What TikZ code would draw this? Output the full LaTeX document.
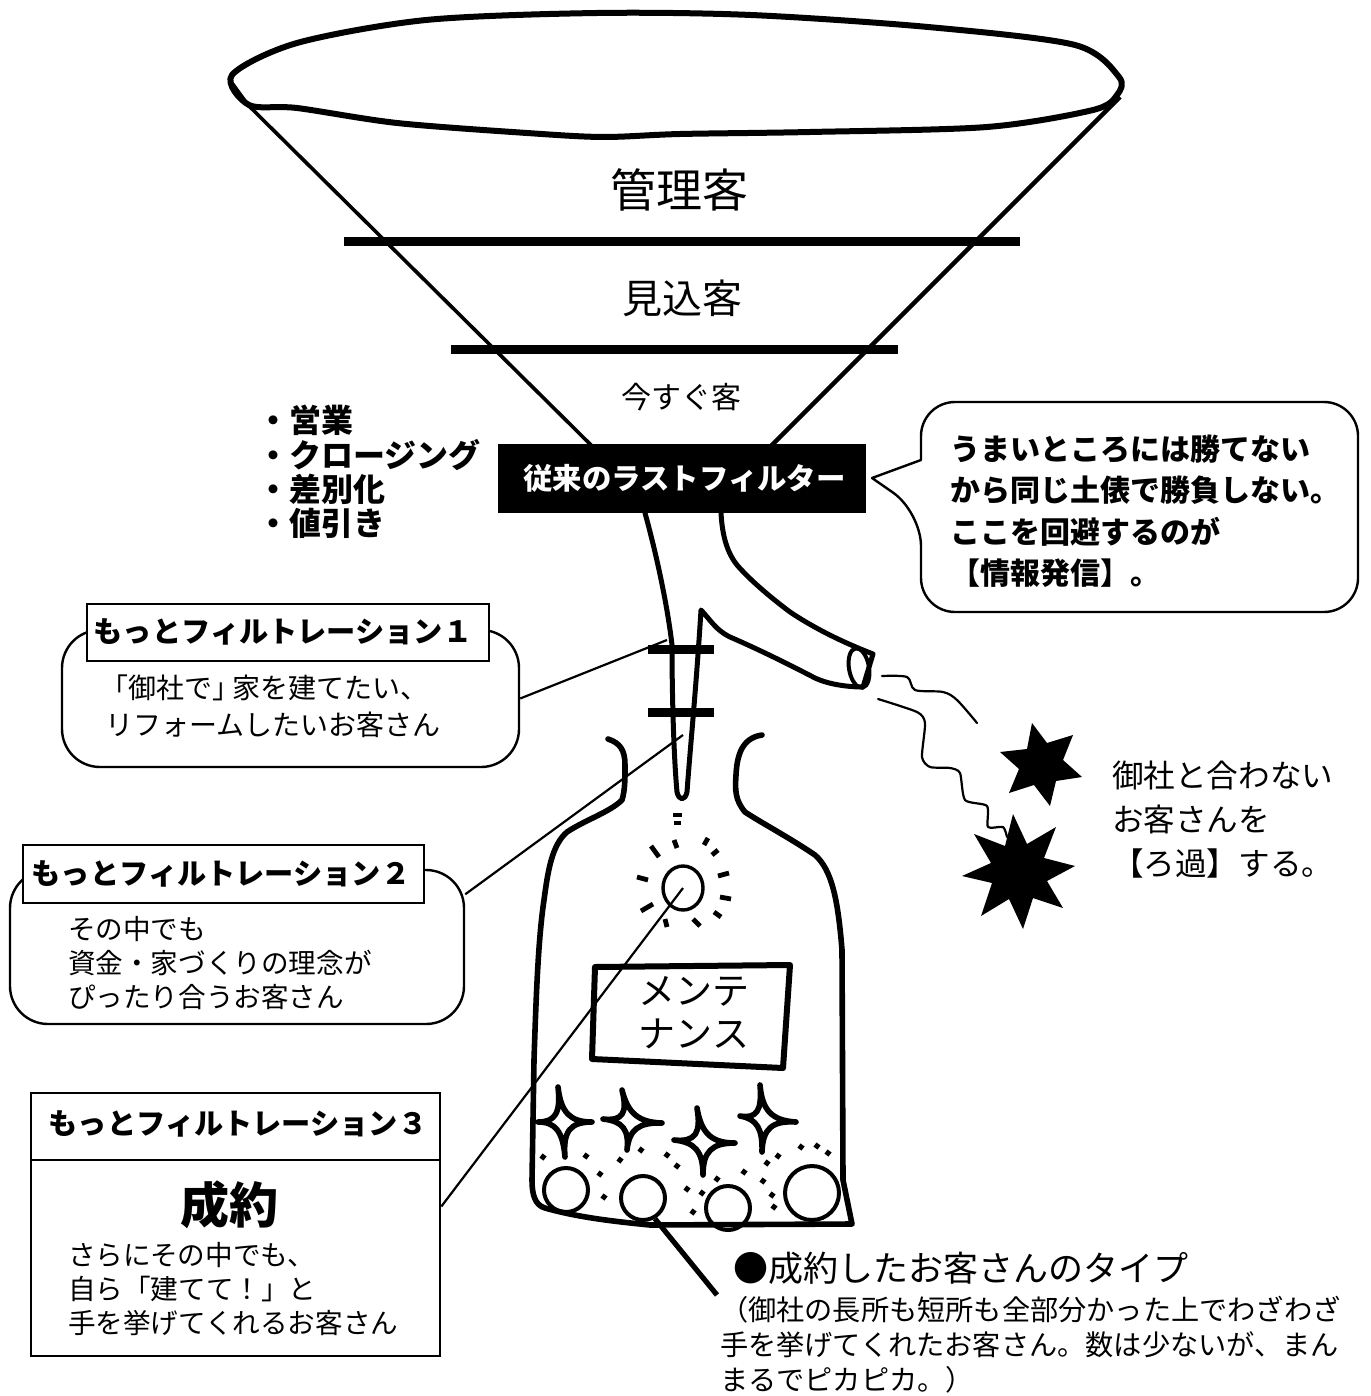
\documentclass[tikz,border=0pt]{standalone}
\usepackage{fontspec}
\usetikzlibrary{shapes.geometric,calc}
\setmainfont{Noto Sans CJK JP}
\newcommand{\fs}[2]{\fontsize{#1}{#2}\selectfont}
\tikzset{
  label text/.style={inner sep=0pt,outer sep=0pt,align=left,anchor=west},
  heading text/.style={inner sep=0pt,outer sep=0pt,font=\bfseries\fs{14.6}{18}},
  round panel/.style={draw=black,line width=1.2pt,rounded corners=19pt,fill=white,inner sep=0pt},
  title tag/.style={draw=black,line width=1.2pt,fill=white,inner sep=0pt},
  ink/.style={line width=2.5pt,line cap=round,line join=round},
  thinink/.style={line width=1.1pt,line cap=round,line join=round},
  leader/.style={line width=1.1pt},
  band/.style={line width=4.5pt},
}
% Concave four-point sparkle: left, top, right, bottom tips and centre
\newcommand{\sparkle}[5]{%
  \draw[line width=2.8pt,line join=round] (#1) .. controls ($(#5)!0.27!(#1)$) and ($(#5)!0.27!(#2)$) .. (#2)
    .. controls ($(#5)!0.27!(#2)$) and ($(#5)!0.27!(#3)$) .. (#3)
    .. controls ($(#5)!0.27!(#3)$) and ($(#5)!0.27!(#4)$) .. (#4)
    .. controls ($(#5)!0.27!(#4)$) and ($(#5)!0.27!(#1)$) .. cycle;}
\begin{document}
\begin{tikzpicture}[x=0.5pt,y=-0.5pt]
\useasboundingbox[fill=white] (0,0) rectangle (1370,1396);

% Funnel rim and sides
\draw[line width=3pt,line join=round] plot[smooth cycle,tension=0.5] coordinates
  {(232,75) (297,43) (426,20) (597,13) (751,15) (928,27) (1075,45) (1119,77) (1117,95)
   (1093,110) (987,127) (810,132) (680,134) (603,137) (527,133) (397,123) (297,108) (249,105)};
\draw[line width=1.8pt,line join=round] (232,83) -- (248,105) -- (592,446);
\draw[line width=2.2pt] (1120,97) -- (771,446);
\draw[band] (344,242) -- (1020,242);
\draw[band] (451,349) -- (898,349);

\node[inner sep=0pt,font=\fs{23}{28}] (tierA) at (679,190) {管理客};
\node[inner sep=0pt,font=\fs{20}{24}] (tierB) at (682,298) {見込客};
\node[inner sep=0pt,font=\fs{15}{18}] (tierC) at (681,397) {今すぐ客};

\node[label text,font=\bfseries\fs{16}{17.2}] (sales) at (257,472)
  {・営業\\・クロージング\\・差別化\\・値引き};

% Neck with side outlet
\draw[ink] (645,513) .. controls (658,560) and (668,610) .. (672,645)
  .. controls (672,700) and (674,760) .. (677,792)
  .. controls (679,801) and (685,801) .. (687,792)
  .. controls (690,750) and (696,690) .. (701,610)
  .. controls (712,622) and (716,630) .. (730,637)
  .. controls (760,650) and (790,665) .. (815,678)
  .. controls (830,685) and (850,687) .. (863,687)
  -- (873,654)
  .. controls (850,645) and (820,632) .. (790,612)
  .. controls (770,597) and (750,580) .. (737,565)
  .. controls (725,550) and (722,530) .. (721,513);
\draw[line width=2pt,rotate around={10:(859,668)}] (859,668) ellipse (10 and 20);
\draw[band] (648,649) -- (714,649);
\draw[band] (648,712) -- (714,712);

% Hopper label and its speech bubble
\node[fill=black,text=white,inner sep=0pt,minimum width=184pt,minimum height=34.5pt,
  font=\bfseries\fs{14.7}{18}] (lastfilter) at (682,478.5) {\hspace*{2.5pt}従来のラストフィルター};
\draw[line width=1.2pt,fill=white,line join=round,rounded corners=17pt]
  (921,460) -- (921,402) -- (1358,402) -- (1358,612) -- (921,612) -- (921,512)
  [sharp corners] -- (872,478) -- cycle;
\node[label text,font=\bfseries\fs{15}{20.7}] (bubble) at (950,511)
  {うまいところには勝てない\\から同じ土俵で勝負しない。\\ここを回避するのが\\【情報発信】。};

% Flask
\draw[ink,line width=2.8pt] (608,739) .. controls (620,743) and (625,750) .. (625,765)
  .. controls (625,780) and (625,790) .. (622,800)
  .. controls (610,812) and (585,820) .. (567,832)
  .. controls (552,845) and (548,870) .. (544,900)
  .. controls (538,940) and (536,1000) .. (534,1060)
  -- (532,1180) .. controls (532,1195) and (535,1205) .. (545,1208)
  .. controls (580,1218) and (620,1222) .. (650,1225)
  -- (852,1224) -- (843,1180) -- (842,950)
  .. controls (838,900) and (832,870) .. (815,855)
  .. controls (790,838) and (760,822) .. (745,812)
  .. controls (735,800) and (735,790) .. (736,775)
  .. controls (737,755) and (742,738) .. (762,735);

% Spout drops and glowing jewel
\node[draw=black,line width=1.7pt,ellipse,inner sep=0pt,minimum width=20pt,minimum height=22pt] (jewel) at (683,888) {};
\foreach \a/\b/\c/\d in {673/815/682/815, 674/823/681/823, 651/846/659/857, 674/840/677/848,
  708/838/704/845, 718/850/712/855, 718/876/729/873, 720/897/731/899, 714/912/721/917,
  693/919/700/926, 665/919/667/927, 641/911/653/904, 637/877/648/880}
  \draw[line width=2.4pt] (\a,\b) -- (\c,\d);

% Maintenance plate
\draw[line width=3pt,line join=round] (595,967) -- (790,965) -- (783,1068) -- (592,1059) -- cycle;
\node[inner sep=0pt,align=center,font=\fs{18.5}{21.5}] (plate) at (694,1013) {メンテ\\ナンス};

% Sparkles, pearls and specks at the bottom of the flask
\sparkle{538,1122}{558,1087}{592,1122}{565,1157}{562,1122}
\sparkle{603,1119}{622,1090}{662,1123}{627,1150}{630,1122}
\sparkle{674,1140}{697,1108}{735,1143}{703,1175}{703,1143}
\sparkle{740,1116}{760,1085}{796,1122}{762,1152}{763,1120}
\node[draw=black,line width=2pt,circle,inner sep=0pt,minimum size=22pt] (pearlA) at (566,1190) {};
\node[draw=black,line width=2pt,circle,inner sep=0pt,minimum size=22pt] (pearlB) at (643,1198) {};
\node[draw=black,line width=2pt,circle,inner sep=0pt,minimum size=22pt] (pearlC) at (728,1208) {};
\node[draw=black,line width=2pt,circle,inner sep=0pt,minimum size=27pt] (pearlD) at (812,1193) {};
\foreach \a/\b in {543/1157, 586/1156, 620/1160, 641/1150, 667/1155, 677/1166, 600/1174, 604/1197,
  687/1189, 702/1193, 693/1212, 717/1179, 744/1172, 763/1181, 767/1163, 778/1156, 772/1195,
  774/1207, 801/1147, 817/1146, 828/1153}
  \draw[line width=2.6pt] (\a-2,\b-1.5) -- (\a+2,\b+1.5);

% Rejected customers leaving the outlet
\draw[thinink] plot[smooth,tension=0.5] coordinates
  {(882,676) (907,677) (915,690) (943,692) (957,700) (977,723)};
\draw[thinink] plot[smooth,tension=0.4] coordinates
  {(878,699) (917,712) (925,723) (922,757) (930,767) (950,768) (960,773) (965,800) (987,806) (988,827) (1003,827) (1007,837)};
\fill (1032,723) -- (1047,743) -- (1073,735) -- (1063,760) -- (1082,777) -- (1056,781)
  -- (1050,806) -- (1034,785) -- (1009,793) -- (1019,769) -- (1000,752) -- (1027,749) -- cycle;
\fill (1013,814) -- (1027,844) -- (1056,827) -- (1044,858) -- (1075,866) -- (1047,881)
  -- (1063,908) -- (1033,898) -- (1023,929) -- (1009,899) -- (981,916) -- (992,883)
  -- (962,876) -- (991,863) -- (974,834) -- (1005,846) -- cycle;
\node[label text,font=\fs{15.8}{22}] (reject) at (1112,820) {御社と合わない\\お客さんを\\【ろ過】する。};

% Stage panels
\node[round panel,minimum width=228.5pt,minimum height=68.5pt] (panelA) at (290.5,698.5) {};
\node[title tag,minimum width=201pt,minimum height=28.5pt] (tagA) at (288,632.5) {};
\node[heading text] (titleA) at (283,632) {もっとフィルトレーション１};
\node[label text,font=\fs{14}{18.5}] (bodyA) at (105,706) {\kern-2.5pt「御社で」\kern-4pt家を建てたい、\\リフォームしたいお客さん};

\node[round panel,minimum width=227pt,minimum height=77pt] (panelB) at (237,947) {};
\node[title tag,minimum width=200.5pt,minimum height=29pt] (tagB) at (223.5,874) {};
\node[heading text] (titleB) at (221,874) {もっとフィルトレーション２};
\node[label text,font=\fs{13.8}{17}] (bodyB) at (68,963) {その中でも\\資金・家づくりの理念が\\ぴったり合うお客さん};

\node[title tag,line width=1.3pt,minimum width=204.5pt,minimum height=131.5pt] (panelC) at (235.5,1224.5) {};
\draw[line width=1.2pt] (panelC.west |- 31,1160) -- (panelC.east |- 440,1160);
\node[heading text] (titleC) at (238,1124) {もっとフィルトレーション３};
\node[inner sep=0pt,font=\bfseries\fs{24.5}{28}] (deal) at (229,1205) {成約};
\node[label text,font=\fs{13.8}{17}] (bodyC) at (68,1289) {さらにその中でも、\\自ら「建てて！」と\\手を挙げてくれるお客さん};

\coordinate (neckA) at (667,640);
\coordinate (neckB) at (683,735);
\draw[leader] (panelA.east) -- (neckA);
\draw[leader] (panelB.13) -- (neckB);
\draw[leader] (panelC.5) -- (jewel.center);

% Note on customers won
\coordinate (noteTip) at (717,1295);
\draw[line width=2.6pt] (pearlB.-60) -- (noteTip);
\node[label text,font=\fs{17.5}{21}] (wonhead) at (733,1268) {●成約したお客さんのタイプ};
\node[label text,font=\fs{14.1}{17.5}] (wonnote) at (720,1345)
  {（御社の長所も短所も全部分かった上でわざわざ\\手を挙げてくれたお客さん。数は少ないが、まん\\まるでピカピカ。）};
\end{tikzpicture}
\end{document}
